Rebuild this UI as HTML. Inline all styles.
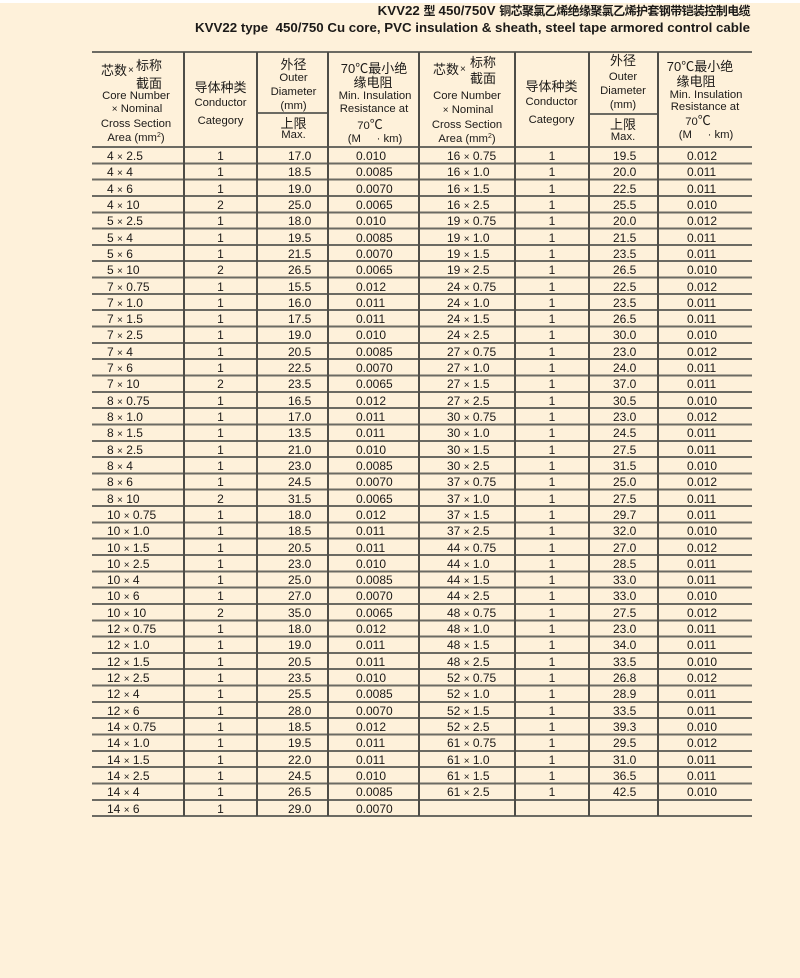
<!DOCTYPE html>
<html>
<head>
<meta charset="utf-8">
<style>
  html,body{margin:0;padding:0;}
  body{width:800px;height:978px;background:#FEF1DA;position:relative;overflow:hidden;
       font-family:"Liberation Sans","Noto Sans CJK SC",sans-serif;color:#1c1a18;}
  .topw{position:absolute;left:0;top:0;width:800px;height:3px;background:#fff;}
  .t{position:absolute;right:50px;white-space:nowrap;font-weight:bold;font-size:13.3px;line-height:16px;height:16px;text-align:right;}
  .t .cj{font-family:"Noto Sans CJK SC",sans-serif;font-size:12px;letter-spacing:-0.6px;}
  .hl{position:absolute;height:2px;background:#6c6b63;}
  .vl{position:absolute;width:1.6px;background:#4e4d47;top:52px;height:764px;}
  .grid{position:absolute;left:92px;top:146px;width:660px;height:671px;
        background:repeating-linear-gradient(to bottom,#6c6b63 0px,#6c6b63 2px,transparent 2px,transparent 16.32px);}
  .h{position:absolute;width:120px;text-align:center;white-space:nowrap;height:16px;line-height:16px;font-size:11.3px;}
  .c{font-family:"Noto Sans CJK SC",sans-serif;font-size:13px;}
  .p{position:absolute;white-space:nowrap;height:16px;line-height:16px;font-family:"Noto Sans CJK SC",sans-serif;font-size:13px;}
  .x{position:absolute;white-space:nowrap;height:16px;line-height:16px;font-size:10px;}
  .data{position:absolute;left:92px;top:148px;width:660px;}
  .r{position:relative;height:16.32px;}
  .r span{position:absolute;top:0;white-space:nowrap;font-size:12px;line-height:16.32px;height:16.32px;}
  .r i{font-style:normal;font-size:10px;}
  .a{left:15px;}
  .b{left:0;width:73px;text-align:center;}
  .cc{left:196px;}
  .d{left:264px;}
  .e{left:355px;}
  .f{left:423px;width:74px;text-align:center;}
  .g{left:521px;}
  .hh{left:595px;}
</style>
</head>
<body>
<div class="topw"></div>

<div class="t" style="top:3px;">KVV22 <span class="cj">型</span> 450/750V <span class="cj">铜芯聚氯乙烯绝缘聚氯乙烯护套钢带铠装控制电缆</span></div>
<div class="t" style="top:20px;">KVV22 type&nbsp;&nbsp;450/750 Cu core, PVC insulation &amp; sheath, steel tape armored control cable</div>

<!-- lines -->
<div class="hl" style="left:92px;top:51px;width:660px;"></div>
<div class="hl" style="left:257px;top:112px;width:71px;"></div>
<div class="hl" style="left:589px;top:113px;width:69px;"></div>
<div class="grid"></div>
<div class="vl" style="left:183.4px;"></div>
<div class="vl" style="left:256.4px;"></div>
<div class="vl" style="left:327.4px;"></div>
<div class="vl" style="left:418.4px;"></div>
<div class="vl" style="left:514.4px;"></div>
<div class="vl" style="left:588.4px;"></div>
<div class="vl" style="left:657.4px;"></div>

<!-- left header -->
<div class="p" style="left:101px;top:62px;">芯数</div>
<div class="x" style="left:128px;top:63px;">×</div>
<div class="p" style="left:136px;top:57px;">标称</div>
<div class="p" style="left:136px;top:75px;">截面</div>
<div class="h" style="left:76px;top:88px;">Core Number</div>
<div class="h" style="left:77px;top:101px;"><span style="font-size:10px">×</span> Nominal</div>
<div class="h" style="left:76px;top:116px;">Cross Section</div>
<div class="h" style="left:76px;top:130px;">Area (mm<sup style="font-size:7px;vertical-align:4px;line-height:0">2</sup>)</div>

<div class="h c" style="left:160.5px;top:79px;">导体种类</div>
<div class="h" style="left:160.5px;top:95px;">Conductor</div>
<div class="h" style="left:160.5px;top:113px;">Category</div>

<div class="h c" style="left:233.5px;top:56px;">外径</div>
<div class="h" style="left:233.5px;top:70px;">Outer</div>
<div class="h" style="left:233.5px;top:84px;">Diameter</div>
<div class="h" style="left:233.5px;top:98px;">(mm)</div>
<div class="h c" style="left:233.5px;top:115px;">上限</div>
<div class="h" style="left:233.5px;top:127px;">Max.</div>

<div class="h c" style="left:314px;top:60px;"><span style="font-family:'Liberation Sans',sans-serif;">70</span>℃最小绝</div>
<div class="h c" style="left:313px;top:74px;">缘电阻</div>
<div class="h" style="left:315px;top:88px;">Min. Insulation</div>
<div class="h" style="left:314px;top:101px;">Resistance at</div>
<div class="h c" style="left:310px;top:116px;"><span style="font-family:'Liberation Sans',sans-serif;font-size:11.3px">70</span>℃</div>
<div class="h" style="left:315px;top:131px;">(M&nbsp;&nbsp;&nbsp;&nbsp;&nbsp;· km)</div>

<!-- right header -->
<div class="p" style="left:433px;top:61px;">芯数</div>
<div class="x" style="left:460px;top:62px;">×</div>
<div class="p" style="left:470px;top:54px;">标称</div>
<div class="p" style="left:470px;top:70px;">截面</div>
<div class="h" style="left:407px;top:88px;">Core Number</div>
<div class="h" style="left:408px;top:102px;"><span style="font-size:10px">×</span> Nominal</div>
<div class="h" style="left:407px;top:117px;">Cross Section</div>
<div class="h" style="left:407px;top:131px;">Area (mm<sup style="font-size:7px;vertical-align:4px;line-height:0">2</sup>)</div>

<div class="h c" style="left:491.5px;top:78px;">导体种类</div>
<div class="h" style="left:491.5px;top:94px;">Conductor</div>
<div class="h" style="left:491.5px;top:112px;">Category</div>

<div class="h c" style="left:563px;top:52px;">外径</div>
<div class="h" style="left:563px;top:69px;">Outer</div>
<div class="h" style="left:563px;top:83px;">Diameter</div>
<div class="h" style="left:563px;top:97px;">(mm)</div>
<div class="h c" style="left:563px;top:116px;">上限</div>
<div class="h" style="left:563px;top:129px;">Max.</div>

<div class="h c" style="left:640px;top:58px;"><span style="font-family:'Liberation Sans',sans-serif;">70</span>℃最小绝</div>
<div class="h c" style="left:636px;top:73px;">缘电阻</div>
<div class="h" style="left:646px;top:87px;">Min. Insulation</div>
<div class="h" style="left:645px;top:99px;">Resistance at</div>
<div class="h c" style="left:638px;top:112px;"><span style="font-family:'Liberation Sans',sans-serif;font-size:11.3px">70</span>℃</div>
<div class="h" style="left:646px;top:127px;">(M&nbsp;&nbsp;&nbsp;&nbsp;&nbsp;· km)</div>

<!-- data -->
<div class="data">
<div class="r"><span class="a">4 <i>×</i> 2.5</span><span class="b" style="left:92px">1</span><span class="cc">17.0</span><span class="d">0.010</span><span class="e">16 <i>×</i> 0.75</span><span class="f">1</span><span class="g">19.5</span><span class="hh">0.012</span></div>
<div class="r"><span class="a">4 <i>×</i> 4</span><span class="b" style="left:92px">1</span><span class="cc">18.5</span><span class="d">0.0085</span><span class="e">16 <i>×</i> 1.0</span><span class="f">1</span><span class="g">20.0</span><span class="hh">0.011</span></div>
<div class="r"><span class="a">4 <i>×</i> 6</span><span class="b" style="left:92px">1</span><span class="cc">19.0</span><span class="d">0.0070</span><span class="e">16 <i>×</i> 1.5</span><span class="f">1</span><span class="g">22.5</span><span class="hh">0.011</span></div>
<div class="r"><span class="a">4 <i>×</i> 10</span><span class="b" style="left:92px">2</span><span class="cc">25.0</span><span class="d">0.0065</span><span class="e">16 <i>×</i> 2.5</span><span class="f">1</span><span class="g">25.5</span><span class="hh">0.010</span></div>
<div class="r"><span class="a">5 <i>×</i> 2.5</span><span class="b" style="left:92px">1</span><span class="cc">18.0</span><span class="d">0.010</span><span class="e">19 <i>×</i> 0.75</span><span class="f">1</span><span class="g">20.0</span><span class="hh">0.012</span></div>
<div class="r"><span class="a">5 <i>×</i> 4</span><span class="b" style="left:92px">1</span><span class="cc">19.5</span><span class="d">0.0085</span><span class="e">19 <i>×</i> 1.0</span><span class="f">1</span><span class="g">21.5</span><span class="hh">0.011</span></div>
<div class="r"><span class="a">5 <i>×</i> 6</span><span class="b" style="left:92px">1</span><span class="cc">21.5</span><span class="d">0.0070</span><span class="e">19 <i>×</i> 1.5</span><span class="f">1</span><span class="g">23.5</span><span class="hh">0.011</span></div>
<div class="r"><span class="a">5 <i>×</i> 10</span><span class="b" style="left:92px">2</span><span class="cc">26.5</span><span class="d">0.0065</span><span class="e">19 <i>×</i> 2.5</span><span class="f">1</span><span class="g">26.5</span><span class="hh">0.010</span></div>
<div class="r"><span class="a">7 <i>×</i> 0.75</span><span class="b" style="left:92px">1</span><span class="cc">15.5</span><span class="d">0.012</span><span class="e">24 <i>×</i> 0.75</span><span class="f">1</span><span class="g">22.5</span><span class="hh">0.012</span></div>
<div class="r"><span class="a">7 <i>×</i> 1.0</span><span class="b" style="left:92px">1</span><span class="cc">16.0</span><span class="d">0.011</span><span class="e">24 <i>×</i> 1.0</span><span class="f">1</span><span class="g">23.5</span><span class="hh">0.011</span></div>
<div class="r"><span class="a">7 <i>×</i> 1.5</span><span class="b" style="left:92px">1</span><span class="cc">17.5</span><span class="d">0.011</span><span class="e">24 <i>×</i> 1.5</span><span class="f">1</span><span class="g">26.5</span><span class="hh">0.011</span></div>
<div class="r"><span class="a">7 <i>×</i> 2.5</span><span class="b" style="left:92px">1</span><span class="cc">19.0</span><span class="d">0.010</span><span class="e">24 <i>×</i> 2.5</span><span class="f">1</span><span class="g">30.0</span><span class="hh">0.010</span></div>
<div class="r"><span class="a">7 <i>×</i> 4</span><span class="b" style="left:92px">1</span><span class="cc">20.5</span><span class="d">0.0085</span><span class="e">27 <i>×</i> 0.75</span><span class="f">1</span><span class="g">23.0</span><span class="hh">0.012</span></div>
<div class="r"><span class="a">7 <i>×</i> 6</span><span class="b" style="left:92px">1</span><span class="cc">22.5</span><span class="d">0.0070</span><span class="e">27 <i>×</i> 1.0</span><span class="f">1</span><span class="g">24.0</span><span class="hh">0.011</span></div>
<div class="r"><span class="a">7 <i>×</i> 10</span><span class="b" style="left:92px">2</span><span class="cc">23.5</span><span class="d">0.0065</span><span class="e">27 <i>×</i> 1.5</span><span class="f">1</span><span class="g">37.0</span><span class="hh">0.011</span></div>
<div class="r"><span class="a">8 <i>×</i> 0.75</span><span class="b" style="left:92px">1</span><span class="cc">16.5</span><span class="d">0.012</span><span class="e">27 <i>×</i> 2.5</span><span class="f">1</span><span class="g">30.5</span><span class="hh">0.010</span></div>
<div class="r"><span class="a">8 <i>×</i> 1.0</span><span class="b" style="left:92px">1</span><span class="cc">17.0</span><span class="d">0.011</span><span class="e">30 <i>×</i> 0.75</span><span class="f">1</span><span class="g">23.0</span><span class="hh">0.012</span></div>
<div class="r"><span class="a">8 <i>×</i> 1.5</span><span class="b" style="left:92px">1</span><span class="cc">13.5</span><span class="d">0.011</span><span class="e">30 <i>×</i> 1.0</span><span class="f">1</span><span class="g">24.5</span><span class="hh">0.011</span></div>
<div class="r"><span class="a">8 <i>×</i> 2.5</span><span class="b" style="left:92px">1</span><span class="cc">21.0</span><span class="d">0.010</span><span class="e">30 <i>×</i> 1.5</span><span class="f">1</span><span class="g">27.5</span><span class="hh">0.011</span></div>
<div class="r"><span class="a">8 <i>×</i> 4</span><span class="b" style="left:92px">1</span><span class="cc">23.0</span><span class="d">0.0085</span><span class="e">30 <i>×</i> 2.5</span><span class="f">1</span><span class="g">31.5</span><span class="hh">0.010</span></div>
<div class="r"><span class="a">8 <i>×</i> 6</span><span class="b" style="left:92px">1</span><span class="cc">24.5</span><span class="d">0.0070</span><span class="e">37 <i>×</i> 0.75</span><span class="f">1</span><span class="g">25.0</span><span class="hh">0.012</span></div>
<div class="r"><span class="a">8 <i>×</i> 10</span><span class="b" style="left:92px">2</span><span class="cc">31.5</span><span class="d">0.0065</span><span class="e">37 <i>×</i> 1.0</span><span class="f">1</span><span class="g">27.5</span><span class="hh">0.011</span></div>
<div class="r"><span class="a">10 <i>×</i> 0.75</span><span class="b" style="left:92px">1</span><span class="cc">18.0</span><span class="d">0.012</span><span class="e">37 <i>×</i> 1.5</span><span class="f">1</span><span class="g">29.7</span><span class="hh">0.011</span></div>
<div class="r"><span class="a">10 <i>×</i> 1.0</span><span class="b" style="left:92px">1</span><span class="cc">18.5</span><span class="d">0.011</span><span class="e">37 <i>×</i> 2.5</span><span class="f">1</span><span class="g">32.0</span><span class="hh">0.010</span></div>
<div class="r"><span class="a">10 <i>×</i> 1.5</span><span class="b" style="left:92px">1</span><span class="cc">20.5</span><span class="d">0.011</span><span class="e">44 <i>×</i> 0.75</span><span class="f">1</span><span class="g">27.0</span><span class="hh">0.012</span></div>
<div class="r"><span class="a">10 <i>×</i> 2.5</span><span class="b" style="left:92px">1</span><span class="cc">23.0</span><span class="d">0.010</span><span class="e">44 <i>×</i> 1.0</span><span class="f">1</span><span class="g">28.5</span><span class="hh">0.011</span></div>
<div class="r"><span class="a">10 <i>×</i> 4</span><span class="b" style="left:92px">1</span><span class="cc">25.0</span><span class="d">0.0085</span><span class="e">44 <i>×</i> 1.5</span><span class="f">1</span><span class="g">33.0</span><span class="hh">0.011</span></div>
<div class="r"><span class="a">10 <i>×</i> 6</span><span class="b" style="left:92px">1</span><span class="cc">27.0</span><span class="d">0.0070</span><span class="e">44 <i>×</i> 2.5</span><span class="f">1</span><span class="g">33.0</span><span class="hh">0.010</span></div>
<div class="r"><span class="a">10 <i>×</i> 10</span><span class="b" style="left:92px">2</span><span class="cc">35.0</span><span class="d">0.0065</span><span class="e">48 <i>×</i> 0.75</span><span class="f">1</span><span class="g">27.5</span><span class="hh">0.012</span></div>
<div class="r"><span class="a">12 <i>×</i> 0.75</span><span class="b" style="left:92px">1</span><span class="cc">18.0</span><span class="d">0.012</span><span class="e">48 <i>×</i> 1.0</span><span class="f">1</span><span class="g">23.0</span><span class="hh">0.011</span></div>
<div class="r"><span class="a">12 <i>×</i> 1.0</span><span class="b" style="left:92px">1</span><span class="cc">19.0</span><span class="d">0.011</span><span class="e">48 <i>×</i> 1.5</span><span class="f">1</span><span class="g">34.0</span><span class="hh">0.011</span></div>
<div class="r"><span class="a">12 <i>×</i> 1.5</span><span class="b" style="left:92px">1</span><span class="cc">20.5</span><span class="d">0.011</span><span class="e">48 <i>×</i> 2.5</span><span class="f">1</span><span class="g">33.5</span><span class="hh">0.010</span></div>
<div class="r"><span class="a">12 <i>×</i> 2.5</span><span class="b" style="left:92px">1</span><span class="cc">23.5</span><span class="d">0.010</span><span class="e">52 <i>×</i> 0.75</span><span class="f">1</span><span class="g">26.8</span><span class="hh">0.012</span></div>
<div class="r"><span class="a">12 <i>×</i> 4</span><span class="b" style="left:92px">1</span><span class="cc">25.5</span><span class="d">0.0085</span><span class="e">52 <i>×</i> 1.0</span><span class="f">1</span><span class="g">28.9</span><span class="hh">0.011</span></div>
<div class="r"><span class="a">12 <i>×</i> 6</span><span class="b" style="left:92px">1</span><span class="cc">28.0</span><span class="d">0.0070</span><span class="e">52 <i>×</i> 1.5</span><span class="f">1</span><span class="g">33.5</span><span class="hh">0.011</span></div>
<div class="r"><span class="a">14 <i>×</i> 0.75</span><span class="b" style="left:92px">1</span><span class="cc">18.5</span><span class="d">0.012</span><span class="e">52 <i>×</i> 2.5</span><span class="f">1</span><span class="g">39.3</span><span class="hh">0.010</span></div>
<div class="r"><span class="a">14 <i>×</i> 1.0</span><span class="b" style="left:92px">1</span><span class="cc">19.5</span><span class="d">0.011</span><span class="e">61 <i>×</i> 0.75</span><span class="f">1</span><span class="g">29.5</span><span class="hh">0.012</span></div>
<div class="r"><span class="a">14 <i>×</i> 1.5</span><span class="b" style="left:92px">1</span><span class="cc">22.0</span><span class="d">0.011</span><span class="e">61 <i>×</i> 1.0</span><span class="f">1</span><span class="g">31.0</span><span class="hh">0.011</span></div>
<div class="r"><span class="a">14 <i>×</i> 2.5</span><span class="b" style="left:92px">1</span><span class="cc">24.5</span><span class="d">0.010</span><span class="e">61 <i>×</i> 1.5</span><span class="f">1</span><span class="g">36.5</span><span class="hh">0.011</span></div>
<div class="r"><span class="a">14 <i>×</i> 4</span><span class="b" style="left:92px">1</span><span class="cc">26.5</span><span class="d">0.0085</span><span class="e">61 <i>×</i> 2.5</span><span class="f">1</span><span class="g">42.5</span><span class="hh">0.010</span></div>
<div class="r"><span class="a">14 <i>×</i> 6</span><span class="b" style="left:92px">1</span><span class="cc">29.0</span><span class="d">0.0070</span></div>
</div>
</body>
</html>
